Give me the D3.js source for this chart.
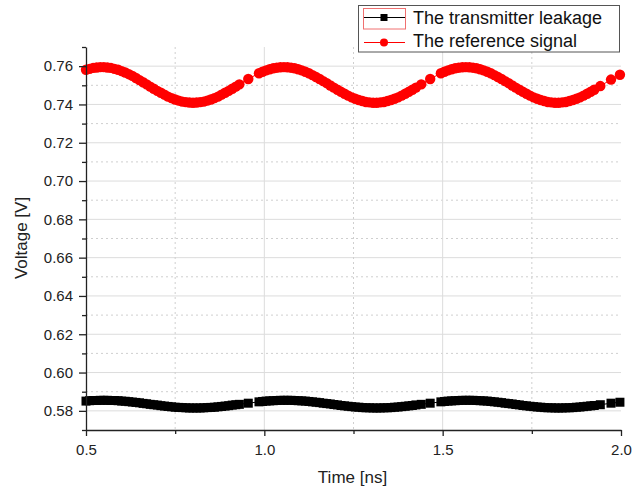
<!DOCTYPE html>
<html>
<head>
<meta charset="utf-8">
<script src="https://cdn.jsdelivr.net/npm/d3@7"></script>
<style>
  html, body { margin: 0; padding: 0; background: #fff; }
  svg { display: block; font-family: "Liberation Sans", Arial, sans-serif; }
</style>
</head>
<body>
<svg id="chart" width="644" height="495"></svg>
<script>
// Sample times [ns]
const time = [
  0.50,0.51,0.52,0.53,0.54,0.55,0.56,0.57,0.58,0.59,
  0.60,0.61,0.62,0.63,0.64,0.65,0.66,0.67,0.68,0.69,
  0.70,0.71,0.72,0.73,0.74,0.75,0.76,0.77,0.78,0.79,
  0.80,0.81,0.82,0.83,0.84,0.85,0.86,0.87,0.88,0.89,
  0.90,0.91,0.92,0.93,0.955,
  0.985,0.995,1.005,1.015,1.025,1.035,1.045,1.055,1.065,1.075,
  1.085,1.095,1.105,1.115,1.125,1.135,1.145,1.155,1.165,1.175,
  1.185,1.195,1.205,1.215,1.225,1.235,1.245,1.255,1.265,1.275,
  1.285,1.295,1.305,1.315,1.325,1.335,1.345,1.355,1.365,1.375,
  1.385,1.395,1.405,1.415,1.425,1.44,1.465,
  1.495,1.505,1.515,1.525,1.535,1.545,1.555,1.565,1.575,1.585,
  1.595,1.605,1.615,1.625,1.635,1.645,1.655,1.665,1.675,1.685,
  1.695,1.705,1.715,1.725,1.735,1.745,1.755,1.765,1.775,1.785,
  1.795,1.805,1.815,1.825,1.835,1.845,1.855,1.865,1.875,1.885,
  1.895,1.905,1.915,1.925,1.942,1.972,1.997
];

// The transmitter leakage [V]
const transmitterLeakage = [
  0.5851,0.5853,0.5854,0.5854,0.5855,0.5855,0.5855,0.5854,0.5854,0.5853,
  0.5851,0.5850,0.5848,0.5846,0.5844,0.5842,0.5839,0.5837,0.5834,0.5832,
  0.5830,0.5827,0.5825,0.5823,0.5821,0.5819,0.5818,0.5817,0.5816,0.5815,
  0.5815,0.5815,0.5815,0.5816,0.5817,0.5818,0.5819,0.5821,0.5823,0.5825,
  0.5827,0.5830,0.5832,0.5834,0.5840,
  0.5847,0.5849,0.5851,0.5852,0.5853,0.5854,0.5855,0.5855,0.5855,0.5855,
  0.5854,0.5853,0.5852,0.5851,0.5849,0.5847,0.5845,0.5843,0.5840,0.5838,
  0.5836,0.5833,0.5831,0.5828,0.5826,0.5824,0.5822,0.5820,0.5819,0.5817,
  0.5816,0.5816,0.5815,0.5815,0.5815,0.5816,0.5816,0.5817,0.5819,0.5820,
  0.5822,0.5824,0.5826,0.5828,0.5831,0.5834,0.5840,
  0.5847,0.5849,0.5851,0.5852,0.5853,0.5854,0.5855,0.5855,0.5855,0.5855,
  0.5854,0.5853,0.5852,0.5851,0.5849,0.5847,0.5845,0.5843,0.5840,0.5838,
  0.5836,0.5833,0.5831,0.5828,0.5826,0.5824,0.5822,0.5820,0.5819,0.5817,
  0.5816,0.5816,0.5815,0.5815,0.5815,0.5816,0.5816,0.5817,0.5819,0.5820,
  0.5822,0.5824,0.5826,0.5828,0.5832,0.5840,0.5845
];

// The reference signal [V]
const referenceSignal = [
  0.7581,0.7586,0.7591,0.7593,0.7595,0.7595,0.7593,0.7591,0.7586,0.7581,
  0.7574,0.7567,0.7558,0.7549,0.7538,0.7527,0.7516,0.7505,0.7493,0.7482,
  0.7471,0.7461,0.7451,0.7441,0.7433,0.7426,0.7420,0.7415,0.7412,0.7410,
  0.7409,0.7410,0.7412,0.7415,0.7420,0.7426,0.7433,0.7441,0.7451,0.7461,
  0.7471,0.7482,0.7493,0.7505,0.7533,
  0.7563,0.7571,0.7578,0.7584,0.7589,0.7592,0.7594,0.7595,0.7594,0.7592,
  0.7589,0.7584,0.7578,0.7571,0.7563,0.7553,0.7543,0.7533,0.7522,0.7511,
  0.7499,0.7488,0.7477,0.7466,0.7456,0.7446,0.7437,0.7430,0.7423,0.7418,
  0.7413,0.7411,0.7409,0.7409,0.7411,0.7413,0.7418,0.7423,0.7430,0.7437,
  0.7446,0.7456,0.7466,0.7477,0.7488,0.7505,0.7533,
  0.7563,0.7571,0.7578,0.7584,0.7589,0.7592,0.7594,0.7595,0.7594,0.7592,
  0.7589,0.7584,0.7578,0.7571,0.7563,0.7553,0.7543,0.7533,0.7522,0.7511,
  0.7499,0.7488,0.7477,0.7466,0.7456,0.7446,0.7437,0.7430,0.7423,0.7418,
  0.7413,0.7411,0.7409,0.7409,0.7411,0.7413,0.7418,0.7423,0.7430,0.7437,
  0.7446,0.7456,0.7466,0.7477,0.7496,0.7530,0.7555
];

const xMajorTicks = [0.5, 1.0, 1.5, 2.0];
const xMinorTicks = [0.75, 1.25, 1.75];
const yMajorTicks = [0.58, 0.60, 0.62, 0.64, 0.66, 0.68, 0.70, 0.72, 0.74, 0.76];
const yMinorTicks = [0.57, 0.59, 0.61, 0.63, 0.65, 0.67, 0.69, 0.71, 0.73, 0.75, 0.77];
const seriesNames = ["The transmitter leakage", "The reference signal"];

const svg = d3.select("#chart");
const plotLeft = 86, plotRight = 621, plotTop = 47, plotBottom = 430;

const x = d3.scaleLinear().domain([0.5, 2.0]).range([plotLeft, plotRight]);
const y = d3.scaleLinear().domain([0.57, 0.77]).range([plotBottom, plotTop]);

// Grid
const grid = svg.append("g");
grid.selectAll(".hmaj").data(yMajorTicks).join("line")
  .attr("x1", plotLeft).attr("x2", plotRight)
  .attr("y1", d => y(d)).attr("y2", d => y(d))
  .attr("stroke", "#dcdcdc").attr("stroke-width", 1);
grid.selectAll(".hmin").data(yMinorTicks.filter(d => d > 0.575 && d < 0.765)).join("line")
  .attr("x1", plotLeft).attr("x2", plotRight)
  .attr("y1", d => y(d)).attr("y2", d => y(d))
  .attr("stroke", "#cfcfcf").attr("stroke-width", 1).attr("stroke-dasharray", "2,3");
grid.selectAll(".vmaj").data([1.0, 1.5]).join("line")
  .attr("x1", d => x(d)).attr("x2", d => x(d))
  .attr("y1", plotTop).attr("y2", plotBottom)
  .attr("stroke", "#dcdcdc").attr("stroke-width", 1);
grid.selectAll(".vmin").data(xMinorTicks).join("line")
  .attr("x1", d => x(d)).attr("x2", d => x(d))
  .attr("y1", plotTop).attr("y2", plotBottom)
  .attr("stroke", "#cfcfcf").attr("stroke-width", 1).attr("stroke-dasharray", "2,3");

// Series
const line = d3.line().x(d => x(d[0])).y(d => y(d[1]));
const leak = time.map((t, i) => [t, transmitterLeakage[i]]);
const ref = time.map((t, i) => [t, referenceSignal[i]]);

svg.append("path").datum(leak).attr("d", line)
  .attr("fill", "none").attr("stroke", "#000").attr("stroke-width", 1);
svg.append("g").selectAll("rect").data(leak).join("rect")
  .attr("x", d => x(d[0]) - 4.5).attr("y", d => y(d[1]) - 4.5)
  .attr("width", 9).attr("height", 9).attr("fill", "#000");

svg.append("path").datum(ref).attr("d", line)
  .attr("fill", "none").attr("stroke", "#ff0000").attr("stroke-width", 1);
svg.append("g").selectAll("circle").data(ref).join("circle")
  .attr("cx", d => x(d[0])).attr("cy", d => y(d[1]))
  .attr("r", 5.2).attr("fill", "#ff0000");

// Axes
const axisColor = "#222";
svg.append("g").attr("transform", `translate(0,${plotBottom})`)
  .call(d3.axisBottom(x).tickValues(xMajorTicks).tickFormat(d3.format(".1f"))
    .tickSize(6).tickPadding(8).tickSizeOuter(0));
svg.append("g").attr("transform", `translate(0,${plotBottom})`)
  .call(d3.axisBottom(x).tickValues(xMinorTicks).tickFormat("").tickSize(4).tickSizeOuter(0))
  .select(".domain").remove();

svg.append("g").attr("transform", `translate(${plotLeft},0)`)
  .call(d3.axisLeft(y).tickValues(yMajorTicks).tickFormat(d3.format(".2f"))
    .tickSize(7).tickPadding(6).tickSizeOuter(0));
svg.append("g").attr("transform", `translate(${plotLeft},0)`)
  .call(d3.axisLeft(y).tickValues(yMinorTicks).tickFormat("").tickSize(4).tickSizeOuter(0))
  .select(".domain").remove();

svg.selectAll(".domain").attr("stroke", axisColor).attr("stroke-width", 1.3);
svg.selectAll(".tick line").attr("stroke", axisColor).attr("stroke-width", 1.3);
svg.selectAll(".tick text").attr("fill", "#222")
  .style("font-size", "15px").style("font-family", "'Liberation Sans', Arial, sans-serif");

// Axis titles
svg.append("text").attr("x", (plotLeft + plotRight) / 2 - 1).attr("y", 483)
  .attr("text-anchor", "middle").attr("fill", "#222").style("font-size", "17px")
  .text("Time [ns]");
svg.append("text").attr("transform", "translate(27,238) rotate(-90)")
  .attr("text-anchor", "middle").attr("fill", "#222").style("font-size", "17px")
  .text("Voltage [V]");

// Legend
const lg = svg.append("g");
lg.append("rect").attr("x", 358.5).attr("y", 5.5).attr("width", 261).attr("height", 46.5)
  .attr("fill", "#fff").attr("stroke", "#555").attr("stroke-width", 1);
lg.append("rect").attr("x", 363.5).attr("y", 8.5).attr("width", 42).attr("height", 20.5)
  .attr("fill", "none").attr("stroke", "#f07070").attr("stroke-width", 1);
lg.append("line").attr("x1", 364).attr("x2", 405).attr("y1", 17.5).attr("y2", 17.5)
  .attr("stroke", "#000").attr("stroke-width", 1);
lg.append("rect").attr("x", 384 - 3.5).attr("y", 17.5 - 3.5).attr("width", 7).attr("height", 7)
  .attr("fill", "#000");
lg.append("line").attr("x1", 364).attr("x2", 405).attr("y1", 42.5).attr("y2", 42.5)
  .attr("stroke", "#ff0000").attr("stroke-width", 1);
lg.append("circle").attr("cx", 384).attr("cy", 42.5).attr("r", 4).attr("fill", "#ff0000");
lg.selectAll("text.lbl").data(seriesNames).join("text")
  .attr("x", 413).attr("y", (d, i) => 24 + i * 22.5)
  .attr("fill", "#111").style("font-size", "18px")
  .text(d => d);
</script>
</body>
</html>
